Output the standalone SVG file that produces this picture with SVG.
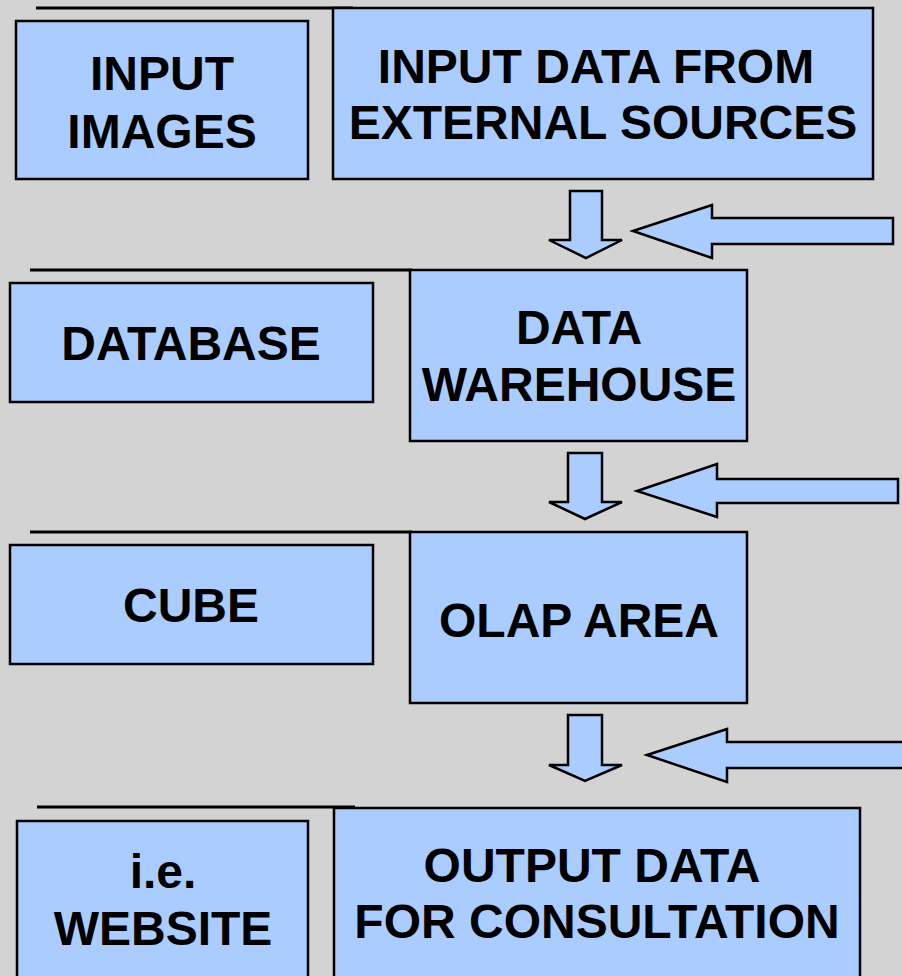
<svg xmlns="http://www.w3.org/2000/svg" width="902" height="976" viewBox="0 0 902 976">
<style>
.box{fill:#aaccff;stroke:#000;stroke-width:2.5}
.arr{fill:#aaccff;stroke:#000;stroke-width:2.5;stroke-linejoin:miter}
.rule{stroke:#000;stroke-width:3}
text{font-family:"Liberation Sans",Arial,sans-serif;font-weight:bold;font-size:48px;fill:#000;text-anchor:middle}
</style>
<rect width="902" height="976" fill="#d3d3d3"/>
<g id="rules">
<line class="rule" x1="36" y1="8" x2="353" y2="8"/>
<line class="rule" x1="30" y1="270" x2="412" y2="270"/>
<line class="rule" x1="30" y1="532" x2="412" y2="532"/>
<line class="rule" x1="37" y1="807" x2="355" y2="807"/>
</g>
<g id="input-images">
<rect class="box" x="16" y="21" width="292" height="158"/>
<text x="162" y="90">INPUT</text>
<text x="162" y="148">IMAGES</text>
</g>
<g id="input-data">
<rect class="box" x="333" y="8" width="540" height="171"/>
<text x="596" y="83">INPUT DATA FROM</text>
<text x="603" y="139">EXTERNAL SOURCES</text>
</g>
<g id="database">
<rect class="box" x="10" y="283" width="363" height="119"/>
<text x="191" y="360">DATABASE</text>
</g>
<g id="data-warehouse">
<rect class="box" x="410" y="270" width="337" height="171"/>
<text x="579" y="344">DATA</text>
<text x="579" y="401">WAREHOUSE</text>
</g>
<g id="cube">
<rect class="box" x="10" y="545" width="363" height="119"/>
<text x="191" y="622">CUBE</text>
</g>
<g id="olap-area">
<rect class="box" x="410" y="532" width="337" height="171"/>
<text x="579" y="637">OLAP AREA</text>
</g>
<g id="website">
<rect class="box" x="17" y="821" width="291" height="170"/>
<text x="163" y="888">i.e.</text>
<text x="163" y="945">WEBSITE</text>
</g>
<g id="output-data">
<rect class="box" x="334" y="808" width="526" height="180"/>
<text x="592" y="882">OUTPUT DATA</text>
<text x="597" y="938">FOR CONSULTATION</text>
</g>
<g id="connectors">
<polygon class="arr" points="570,191 602,191 602,240 622,240 586,258 549,240 570,240"/>
<polygon class="arr" points="633,231 712,205 712,218 893,218 893,244 712,244 712,258"/>
<polygon class="arr" points="568,453 602,453 602,502 622,502 585,519 549,502 568,502"/>
<polygon class="arr" points="637,491 717,464 717,479 898,479 898,503 717,503 717,517"/>
<polygon class="arr" points="568,715 602,715 602,765 622,765 585,781 549,765 568,765"/>
<polygon class="arr" points="647,755 727,729 727,742 910,742 910,768 727,768 727,782"/>
</g>
</svg>
